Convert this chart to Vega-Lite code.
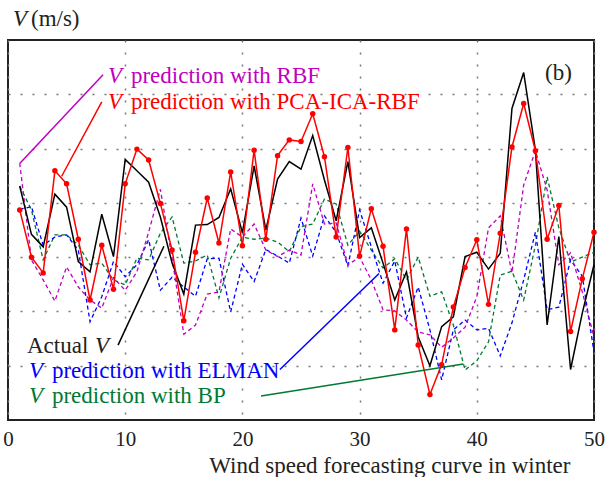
{
  "$schema": "https://vega.github.io/schema/vega-lite/v6.json",
  "width": 586,
  "height": 380,
  "autosize": {"type": "none"},
  "padding": {"left": 8, "top": 40, "right": 14, "bottom": 57},
  "background": "white",
  "config": {"view": {"stroke": "#222", "strokeWidth": 2}, "font": "Liberation Serif"},
  "datasets": {
    "series": [
      {"t":1,"a":4.31,"r":4.73,"p":3.87,"e":3.88,"b":4.31},
      {"t":2,"a":3.42,"r":2.95,"p":3.00,"e":3.93,"b":3.87},
      {"t":3,"a":3.19,"r":2.58,"p":2.71,"e":3.22,"b":2.95},
      {"t":4,"a":4.16,"r":2.19,"p":4.59,"e":3.37,"b":3.41},
      {"t":5,"a":3.92,"r":2.82,"p":4.35,"e":3.41,"b":3.41},
      {"t":6,"a":2.92,"r":2.45,"p":3.33,"e":3.13,"b":3.22},
      {"t":7,"a":2.73,"r":2.21,"p":2.21,"e":1.81,"b":2.86},
      {"t":8,"a":3.79,"r":2.06,"p":3.22,"e":2.27,"b":2.89},
      {"t":9,"a":3.01,"r":2.62,"p":2.41,"e":2.92,"b":2.58},
      {"t":10,"a":4.80,"r":2.39,"p":4.35,"e":2.64,"b":2.49},
      {"t":11,"a":4.59,"r":2.73,"p":4.99,"e":2.86,"b":2.98},
      {"t":12,"a":4.38,"r":3.46,"p":4.79,"e":3.32,"b":2.95},
      {"t":13,"a":3.74,"r":4.25,"p":3.99,"e":2.39,"b":3.44},
      {"t":14,"a":2.89,"r":2.98,"p":3.13,"e":2.63,"b":3.74},
      {"t":15,"a":2.32,"r":1.58,"p":1.83,"e":2.45,"b":2.89},
      {"t":16,"a":3.59,"r":1.75,"p":3.09,"e":2.28,"b":2.93},
      {"t":17,"a":3.60,"r":2.32,"p":4.09,"e":2.97,"b":3.04},
      {"t":18,"a":3.73,"r":2.36,"p":3.26,"e":2.98,"b":2.25},
      {"t":19,"a":4.26,"r":3.52,"p":4.57,"e":1.99,"b":2.98},
      {"t":20,"a":3.45,"r":3.37,"p":3.21,"e":2.87,"b":3.37},
      {"t":21,"a":4.68,"r":3.61,"p":4.97,"e":2.55,"b":3.33},
      {"t":22,"a":3.50,"r":3.13,"p":3.33,"e":3.14,"b":3.35},
      {"t":23,"a":4.44,"r":3.01,"p":4.87,"e":3.02,"b":3.28},
      {"t":24,"a":4.76,"r":3.13,"p":5.16,"e":2.89,"b":3.10},
      {"t":25,"a":4.62,"r":3.04,"p":5.13,"e":3.72,"b":3.56},
      {"t":26,"a":5.24,"r":4.35,"p":5.64,"e":3.02,"b":3.61},
      {"t":27,"a":4.42,"r":3.61,"p":4.85,"e":3.76,"b":4.07},
      {"t":28,"a":3.67,"r":3.63,"p":3.37,"e":3.46,"b":3.98},
      {"t":29,"a":4.76,"r":2.86,"p":5.02,"e":2.84,"b":3.22},
      {"t":30,"a":3.36,"r":3.00,"p":3.02,"e":3.87,"b":3.48},
      {"t":31,"a":3.54,"r":2.58,"p":3.89,"e":3.19,"b":3.13},
      {"t":32,"a":2.89,"r":2.03,"p":3.20,"e":2.52,"b":2.80},
      {"t":33,"a":2.21,"r":2.01,"p":1.66,"e":2.93,"b":2.97},
      {"t":34,"a":2.73,"r":1.84,"p":3.52,"e":1.88,"b":2.58},
      {"t":35,"a":1.53,"r":1.62,"p":1.38,"e":2.45,"b":3.00},
      {"t":36,"a":1.00,"r":1.57,"p":0.47,"e":1.66,"b":2.28},
      {"t":37,"a":1.72,"r":1.34,"p":1.02,"e":0.74,"b":2.36},
      {"t":38,"a":1.90,"r":1.51,"p":2.08,"e":1.66,"b":1.75},
      {"t":39,"a":3.01,"r":1.71,"p":2.81,"e":1.84,"b":0.92},
      {"t":40,"a":3.09,"r":2.27,"p":3.32,"e":1.66,"b":1.09},
      {"t":41,"a":2.78,"r":3.54,"p":2.13,"e":1.69,"b":1.44},
      {"t":42,"a":3.07,"r":3.76,"p":3.44,"e":1.18,"b":2.67},
      {"t":43,"a":5.74,"r":2.71,"p":5.03,"e":1.79,"b":2.74},
      {"t":44,"a":6.40,"r":4.33,"p":5.83,"e":2.58,"b":2.21},
      {"t":45,"a":4.97,"r":4.96,"p":4.96,"e":3.46,"b":3.22},
      {"t":46,"a":1.75,"r":4.24,"p":3.33,"e":2.03,"b":4.48},
      {"t":47,"a":3.38,"r":2.86,"p":3.95,"e":2.08,"b":3.54},
      {"t":48,"a":0.93,"r":3.08,"p":1.63,"e":2.95,"b":2.91},
      {"t":49,"a":1.97,"r":2.36,"p":2.60,"e":2.65,"b":3.00},
      {"t":50,"a":2.86,"r":1.53,"p":3.46,"e":1.25,"b":3.09}
    ],
    "leaders": [
      {"x":1.02,"y":4.73,"x2":8.11,"y2":6.36,"c":"#c000c0"},
      {"x":4.58,"y":4.49,"x2":8.0,"y2":5.86,"c":"#ff0000"},
      {"x":9.39,"y":1.38,"x2":13.3,"y2":3.2,"c":"#000000"},
      {"x":23.2,"y":0.93,"x2":31.66,"y2":2.70,"c":"#0000ff"},
      {"x":21.59,"y":0.44,"x2":38.85,"y2":1.03,"c":"#007a33"}
    ],
    "labelsItalic": [
      {"x":8.53,"y":6.21,"txt":"V","c":"#c000c0"},
      {"x":8.53,"y":5.72,"txt":"V","c":"#ff0000"},
      {"x":7.42,"y":1.24,"txt":"V","c":"#222222"},
      {"x":1.79,"y":0.77,"txt":"V","c":"#0000ff"},
      {"x":1.79,"y":0.31,"txt":"V","c":"#007a33"},
      {"x":0.43,"y":7.26,"txt":"V","c":"#222222"}
    ],
    "labelsNormal": [
      {"x":10.49,"y":6.21,"txt":"prediction with RBF","c":"#c000c0"},
      {"x":10.49,"y":5.72,"txt":"prediction with PCA-ICA-RBF","c":"#ff0000"},
      {"x":1.62,"y":1.24,"txt":"Actual","c":"#222222"},
      {"x":3.75,"y":0.77,"txt":"prediction with ELMAN","c":"#0000ff"},
      {"x":3.75,"y":0.31,"txt":"prediction with BP","c":"#007a33"},
      {"x":1.96,"y":7.26,"txt":"(m/s)","c":"#222222"},
      {"x":45.82,"y":6.26,"txt":"(b)","c":"#222222"}
    ]
  },
  "layer": [
    {
      "data": {"name": "series"},
      "mark": {"type": "line", "color": "#007a33", "strokeWidth": 1.3, "strokeDash": [4, 3]},
      "encoding": {
        "x": {"field": "t", "type": "quantitative",
          "scale": {"domain": [0, 50], "nice": false, "zero": false},
          "axis": {"values": [0, 10, 20, 30, 40, 50], "grid": true, "gridDash": [2, 10], "gridColor": "#777", "gridWidth": 1.5,
            "ticks": false, "tickSize": 0, "domain": false, "labelFlush": false,
            "labelFont": "Liberation Serif", "labelFontSize": 21, "labelColor": "#222", "labelBaseline": "alphabetic", "labelPadding": 25,
            "title": "Wind speed forecasting curve in winter", "titleFont": "Liberation Serif", "titleFontSize": 23, "titleFontWeight": "normal",
            "titleColor": "#222", "titleX": 562, "titleY": 52, "titleAlign": "right", "titleBaseline": "alphabetic", "titleAnchor": null}},
        "y": {"field": "b", "type": "quantitative",
          "scale": {"domain": [0, 7], "nice": false, "zero": false},
          "axis": {"values": [1, 2, 3, 4, 5, 6], "grid": true, "gridDash": [2, 10], "gridColor": "#777", "gridWidth": 1.5,
            "labels": false, "ticks": false, "domain": false, "title": null}}
      }
    },
    {
      "data": {"name": "series"},
      "mark": {"type": "line", "color": "#0000ff", "strokeWidth": 1.3, "strokeDash": [4, 3]},
      "encoding": {"x": {"field": "t", "type": "quantitative"}, "y": {"field": "e", "type": "quantitative"}}
    },
    {
      "data": {"name": "series"},
      "mark": {"type": "line", "color": "#c000c0", "strokeWidth": 1.3, "strokeDash": [4, 3]},
      "encoding": {"x": {"field": "t", "type": "quantitative"}, "y": {"field": "r", "type": "quantitative"}}
    },
    {
      "data": {"name": "series"},
      "mark": {"type": "line", "color": "#000000", "strokeWidth": 1.5},
      "encoding": {"x": {"field": "t", "type": "quantitative"}, "y": {"field": "a", "type": "quantitative"}}
    },
    {
      "data": {"name": "series"},
      "mark": {"type": "line", "color": "#ff0000", "strokeWidth": 1.5, "point": {"filled": true, "size": 30, "color": "#ff0000", "opacity": 1}},
      "encoding": {"x": {"field": "t", "type": "quantitative"}, "y": {"field": "p", "type": "quantitative"}}
    },
    {
      "data": {"name": "leaders"},
      "mark": {"type": "rule", "strokeWidth": 1.5},
      "encoding": {
        "x": {"field": "x", "type": "quantitative"},
        "y": {"field": "y", "type": "quantitative"},
        "x2": {"field": "x2"},
        "y2": {"field": "y2"},
        "color": {"field": "c", "type": "nominal", "scale": null}
      }
    },
    {
      "data": {"name": "labelsItalic"},
      "mark": {"type": "text", "align": "left", "baseline": "alphabetic", "fontSize": 23, "fontStyle": "italic", "font": "Liberation Serif"},
      "encoding": {
        "x": {"field": "x", "type": "quantitative"},
        "y": {"field": "y", "type": "quantitative"},
        "text": {"field": "txt"},
        "color": {"field": "c", "type": "nominal", "scale": null}
      }
    },
    {
      "data": {"name": "labelsNormal"},
      "mark": {"type": "text", "align": "left", "baseline": "alphabetic", "fontSize": 23, "font": "Liberation Serif"},
      "encoding": {
        "x": {"field": "x", "type": "quantitative"},
        "y": {"field": "y", "type": "quantitative"},
        "text": {"field": "txt"},
        "color": {"field": "c", "type": "nominal", "scale": null}
      }
    }
  ]
}
